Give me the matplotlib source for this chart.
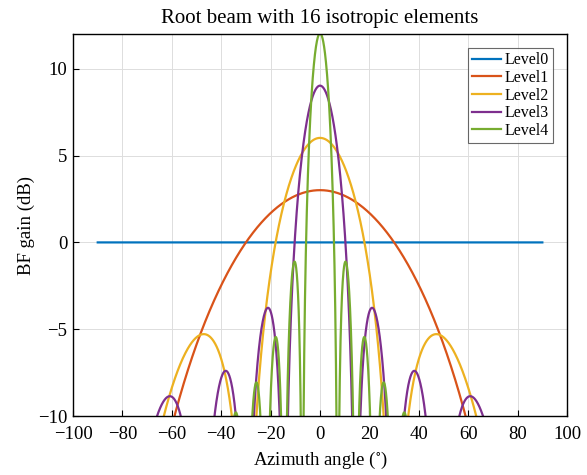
import numpy as np
import matplotlib
matplotlib.use("Agg")
import matplotlib.pyplot as plt

# beam levels: number of isotropic elements combined at each level (half-wavelength spacing)
level_names = ['Level0', 'Level1', 'Level2', 'Level3', 'Level4']
n_elements = [1, 2, 4, 8, 16]
spacing = 0.5  # in wavelengths
colors = ['#0072BD', '#D95319', '#EDB120', '#7E2F8E', '#77AC30']

az_min, az_max = -90, 90
xticks = [-100, -80, -60, -40, -20, 0, 20, 40, 60, 80, 100]
yticks = [-10, -5, 0, 5, 10]

plt.rcParams['font.family'] = ['Liberation Serif', 'DejaVu Serif']
plt.rcParams['mathtext.fontset'] = 'stix'

fig = plt.figure(figsize=(5.87, 4.75), dpi=100)
ax = fig.add_axes([0.1244, 0.1242, 0.8416, 0.804])

theta = np.linspace(az_min, az_max, 3601)
psi = 2 * np.pi * spacing * np.sin(np.radians(theta))
for name, n, c in zip(level_names, n_elements, colors):
    af = np.zeros_like(theta, dtype=complex)
    for k in range(n):
        af += np.exp(1j * k * psi)
    gain = np.abs(af) ** 2 / n
    gain_db = 10 * np.log10(np.maximum(gain, 1e-12))
    ax.plot(theta, gain_db, color=c, lw=1.6, label=name)

ax.set_xlim(-100, 100)
ax.set_ylim(-10, 12)
ax.set_xticks(xticks)
ax.set_yticks(yticks)
ax.grid(True, color='#dddddd', lw=0.7)
ax.tick_params(direction='in', labelsize=13.5, length=4)
ax.tick_params(axis='x', pad=7.5)
ax.tick_params(axis='y', pad=4)
for s in ax.spines.values():
    s.set_linewidth(1.0)
ax.set_xlabel('Azimuth angle ($^{\\circ}$)', fontsize=13.5, labelpad=5)
ax.set_ylabel('BF gain (dB)', fontsize=13.5, labelpad=2)
ax.set_title('Root beam with 16 isotropic elements', fontsize=15, pad=8)
leg = ax.legend(loc='upper right', fontsize=11.5, frameon=True, fancybox=False,
                edgecolor='#444444', borderpad=0.25, labelspacing=0.1,
                handlelength=1.8, handletextpad=0.2, borderaxespad=0.9)
leg.get_frame().set_linewidth(0.8)

fig.savefig('out.png', dpi=100)
